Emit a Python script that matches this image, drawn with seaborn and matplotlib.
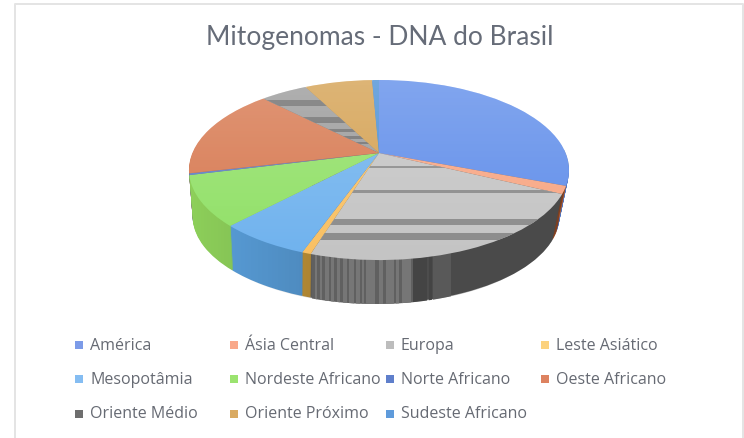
# Mitogenomas pie, tilted like the Excel 3D pie
import numpy as np
import matplotlib
matplotlib.use("Agg")
import matplotlib.pyplot as plt
import matplotlib.transforms as mtransforms
from matplotlib.patches import Circle, Polygon
import seaborn as sns

categories = ["América", "Ásia Central", "Europa", "Leste Asiático",
              "Mesopotâmia", "Nordeste Africano", "Norte Africano", "Oeste Africano",
              "Oriente Médio", "Oriente Próximo", "Sudeste Africano"]
shares = [30.75, 1.4, 22.7, 0.64, 6.6, 9.0, 0.3, 16.2, 4.8, 6.9, 0.7]

top_colors = ["#5f8dea", "#f8a582", "#c4c4c4", "#f9c062",
              "#6fb2ee", "#90e066", "#5a7dc8", "#d7784f",
              "#9a9a9a", "#d4a050", "#4a8fd5"]
wall_colors = ["#4f75c0", "#b05a30", "#6a6a6a", "#c99a3a",
               "#5aa0dc", "#8dcf5a", "#4a68a8", "#a85a38",
               "#666666", "#a8803c", "#4a80b8"]
legend_colors = ["#7c9be8", "#f9a88a", "#bdbdbd", "#fcd27e",
                 "#85bdf2", "#9be36f", "#5f7fcb", "#dd8260",
                 "#6e6e6e", "#d9aa62", "#5f9bdb"]


class Tilt(mtransforms.Transform):
    # unit circle to a foreshortened disc, in pixel coordinates
    input_dims = 2
    output_dims = 2

    def __init__(self, cx, cy, sx, sy, k=0.189):
        super().__init__()
        self.cx, self.cy, self.sx, self.sy, self.k = cx, cy, sx, sy, k

    def transform_non_affine(self, values):
        values = np.asarray(values, dtype=float)
        w = 1 + self.k * values[:, 1]
        return np.column_stack((self.cx + self.sx * values[:, 0] / w,
                                self.cy - self.sy * values[:, 1] / w))


sns.set_theme(style="white")
plt.rcParams["font.family"] = ["Open Sans", "DejaVu Sans"]

fig = plt.figure(figsize=(7.44, 4.38), dpi=100)
ax = fig.add_axes([0, 0, 1, 1])


def draw_pie(colors, cx, cy, sx, sy):
    wedges, _ = ax.pie(shares, colors=sns.color_palette(colors), startangle=90,
                       counterclock=False, wedgeprops={"linewidth": 0})
    tilt = Tilt(cx, cy, sx, sy) + ax.transData
    for w in wedges:
        w.set_transform(tilt)
    return wedges, tilt


# side wall: stacked discs, bottom one first
depth = 47
for d in range(depth, 0, -1):
    s = 1 - 0.035 * d / depth
    draw_pie(wall_colors, 379 - 3 * d / depth, 153 + d, 186.6 * s, 86.8 * s)

# outline of the whole solid, used to clip the wall shading
t = np.linspace(0, np.pi, 90)
outline = np.vstack((np.column_stack((379 - 190 * np.cos(t), 170 - 90 * np.sin(t))),
                     np.column_stack((376 + 183 * np.cos(t), 216 + 88 * np.sin(t)))))
solid = Polygon(outline, closed=True, transform=ax.transData)

wall_shade = np.zeros((1, 256, 4))
wall_shade[..., 3] = np.linspace(0, 0.3, 256)
im = ax.imshow(wall_shade, extent=(190, 450, 320, 150), aspect="auto", zorder=2)
im.set_clip_path(solid)

wall_dark = np.zeros((1, 2, 4))
wall_dark[..., 3] = 0.3
im = ax.imshow(wall_dark, extent=(450, 575, 320, 150), aspect="auto", zorder=2)
im.set_clip_path(solid)

# banding on the grey Europa wall
base_bars = [(312, 101)]
light_bars = [(315, 2), (320, 2), (325, 4), (331, 3), (337, 3), (343, 4), (349, 5),
              (356, 4), (362, 2), (366, 9), (379, 4), (386, 8), (396, 3), (402, 9)]
dark_bars = [(413, 14), (429, 3)]
mid_bars = [(433, 18)]
for bars, shade in ((base_bars, "#606060"), (light_bars, "#767676"),
                    (dark_bars, "#444444"), (mid_bars, "#595959")):
    for x, width in bars:
        ax.fill_between([x, x + width], 170, 320, color=shade, lw=0, zorder=3, clip_path=solid)

# top face
top_wedges, tilt = draw_pie(top_colors, 379, 153, 186.6, 86.8)
for w in top_wedges:
    w.set_zorder(4)

# horizontal banding of the grey slices
europa_bands = [(167, 2), (191, 3), (222, 6), (236, 7)]
medio_bands = [(103, 6), (120, 6), (130, 3), (137, 3), (143, 2)]
for bands, wedge, shade in ((europa_bands, top_wedges[2], "#8a8a8a"),
                            (medio_bands, top_wedges[8], "#6e6e6e")):
    for y, height in bands:
        band = ax.fill_between([180, 580], y - height / 2, y + height / 2,
                               color=shade, lw=0, zorder=5)
        band.set_clip_path(wedge)

# light from the back of the disc
top_light = np.ones((256, 1, 4))
top_light[..., 3] = np.linspace(0.22, 0, 256).reshape(256, 1)
im = ax.imshow(top_light, extent=(185, 575, 262, 78), aspect="auto", zorder=6)
im.set_clip_path(Circle((0, 0), 1, transform=tilt))

ax.text(380, 37, "Mitogenomas - DNA do Brasil", ha="center", va="center",
        fontsize=19, color="#666c78", family=["Lato", "DejaVu Sans"], zorder=7)

# legend, four columns
for i, (name, color) in enumerate(zip(categories, legend_colors)):
    x = 79 + 155.3 * (i % 4)
    y = 345 + 34.3 * (i // 4)
    ax.scatter([x], [y], marker="s", s=30, color=color, lw=0, zorder=7)
    ax.text(x + 11, y + 0.5, name, ha="left", va="center", fontsize=11.5, color="#666a73", zorder=7)

# chart frame
ax.plot([15, 15, 743, 743], [438, 4, 4, 438], color="#e4e4e4", lw=1.4, zorder=1)

ax.set_aspect("auto")
ax.set_xlim(0, 744)
ax.set_ylim(438, 0)
ax.axis("off")

fig.savefig("out.png", dpi=100)
